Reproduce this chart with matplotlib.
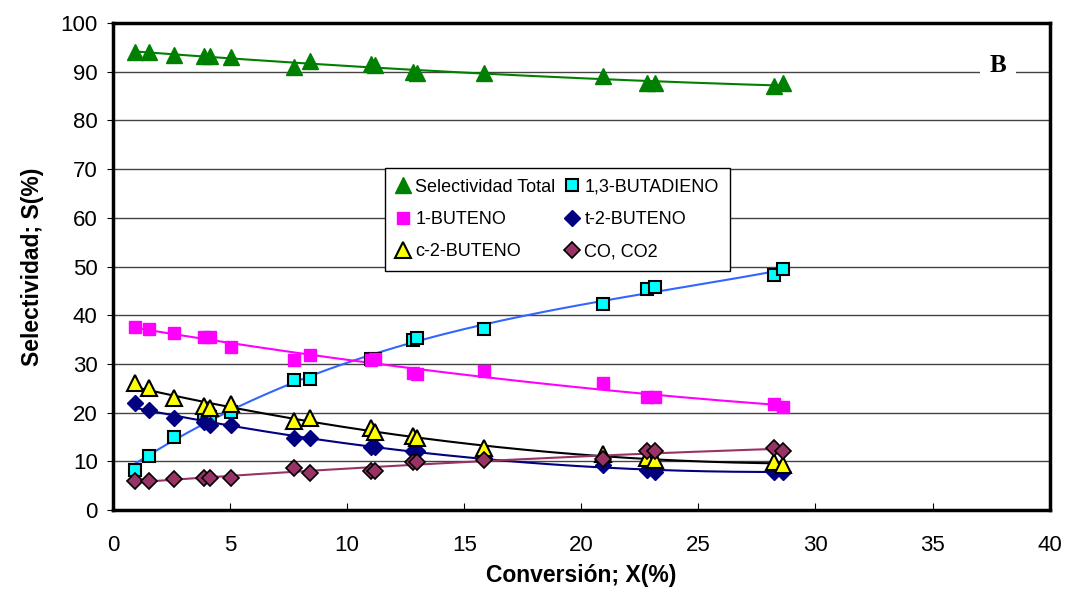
import matplotlib
matplotlib.use("Agg")
import matplotlib.pyplot as plt
import numpy as np

plt.rcParams['font.family'] = ['Liberation Sans', 'DejaVu Sans']

# conversion (%) values, common to all series
conversion = [0.94, 1.54, 2.60, 3.88, 4.14, 5.04, 7.73, 8.40, 11.01, 11.18,
              12.80, 12.97, 15.83, 20.91, 22.79, 23.13, 28.21, 28.60]

sel_total = [94.0, 94.0, 93.4, 93.2, 93.2, 93.0, 91.0, 92.2, 91.7, 91.3,
             90.0, 89.8, 89.7, 89.1, 87.6, 87.6, 87.1, 87.6]
butadieno = [8.2, 11.0, 15.0, 19.1, 19.0, 20.2, 26.7, 27.0, 31.0, 31.1,
             34.9, 35.3, 37.2, 42.4, 45.3, 45.7, 48.3, 49.4]
buteno_1 = [37.5, 37.2, 36.3, 35.5, 35.5, 33.5, 30.8, 31.8, 30.8, 31.0,
            28.1, 27.9, 28.6, 26.1, 23.3, 23.3, 21.7, 21.2]
c2_buteno = [26.1, 25.0, 22.9, 21.4, 20.9, 21.8, 18.3, 18.8, 16.8, 16.1,
             15.1, 14.7, 12.7, 11.5, 10.6, 10.3, 9.8, 9.2]
t2_buteno = [21.9, 20.5, 18.8, 18.1, 17.5, 17.5, 14.8, 14.8, 13.0, 13.0,
             12.1, 12.1, 10.6, 9.2, 8.2, 7.9, 7.9, 7.7]
co_co2 = [6.0, 6.0, 6.3, 6.6, 6.5, 6.6, 8.6, 7.5, 8.1, 8.1,
          9.9, 9.9, 10.3, 10.4, 12.1, 12.1, 12.7, 12.1]

x = np.array(conversion)

fig = plt.figure(figsize=(10.71, 5.93), dpi=100)
ax = fig.add_axes([0.1055, 0.140, 0.8745, 0.821])

# trend lines (polynomial fit of each series, like Excel)
def trend(y, color, deg=2):
    p = np.polyfit(x, np.array(y), deg)
    xs = np.linspace(x.min(), x.max(), 200)
    ax.plot(xs, np.polyval(p, xs), color=color, lw=1.5, zorder=2)

trend(sel_total, '#008000')
trend(butadieno, '#3366FF', 3)
trend(buteno_1, '#FF00FF')
trend(c2_buteno, 'black')
trend(t2_buteno, '#000080')
trend(co_co2, '#993366')

h1, = ax.plot(x, sel_total, ls='none', marker='^', ms=11, color='#008000',
              mec='#008000', label='Selectividad Total', zorder=3)
h2, = ax.plot(x, butadieno, ls='none', marker='s', ms=9, mfc='#00FFFF',
              mec='black', mew=1.5, label='1,3-BUTADIENO', zorder=3)
h3, = ax.plot(x, buteno_1, ls='none', marker='s', ms=9, color='#FF00FF',
              label='1-BUTENO', zorder=3)
h4, = ax.plot(x, t2_buteno, ls='none', marker='D', ms=8, color='#000080',
              label='t-2-BUTENO', zorder=3)
h5, = ax.plot(x, c2_buteno, ls='none', marker='^', ms=11, mfc='#FFFF00',
              mec='black', mew=1.5, label='c-2-BUTENO', zorder=3)
h6, = ax.plot(x, co_co2, ls='none', marker='D', ms=8, mfc='#993366',
              mec='black', mew=1.2, label='CO, CO2', zorder=3)

ax.set_xlim(0, 40)
ax.set_ylim(0, 100)
ax.set_xticks(np.arange(0, 41, 5))
ax.set_yticks(np.arange(0, 101, 10))
ax.yaxis.grid(True, color='#444444', lw=1)
ax.set_axisbelow(True)
ax.tick_params(axis='x', direction='in', length=5, labelsize=16, pad=18)
ax.tick_params(axis='y', direction='out', length=4, labelsize=16, pad=7)
for s in ax.spines.values():
    s.set_linewidth(2.5)
    s.set_color('black')

ax.set_xlabel('Conversión; X(%)', fontsize=16.5, fontweight='bold', labelpad=6)
ax.set_ylabel('Selectividad; S(%)', fontsize=16.5, fontweight='bold', labelpad=12)

leg = ax.legend([h1, h3, h5, h2, h4, h6],
                ['Selectividad Total', '1-BUTENO', 'c-2-BUTENO',
                 '1,3-BUTADIENO', 't-2-BUTENO', 'CO, CO2'],
                ncol=2, loc='upper left', bbox_to_anchor=(0.29, 0.703),
                borderaxespad=0, fontsize=13, frameon=True, fancybox=False,
                edgecolor='black', framealpha=1, handlelength=0.8,
                handletextpad=0.3, columnspacing=0.5, labelspacing=0.85,
                borderpad=0.6)
leg.get_frame().set_linewidth(1)

ax.text(0.945, 0.912, 'B', transform=ax.transAxes, ha='center', va='center',
        fontsize=18, fontweight='bold', family='Liberation Serif',
        bbox=dict(facecolor='white', edgecolor='none', pad=7), zorder=4)

fig.savefig('out.png', dpi=100)
